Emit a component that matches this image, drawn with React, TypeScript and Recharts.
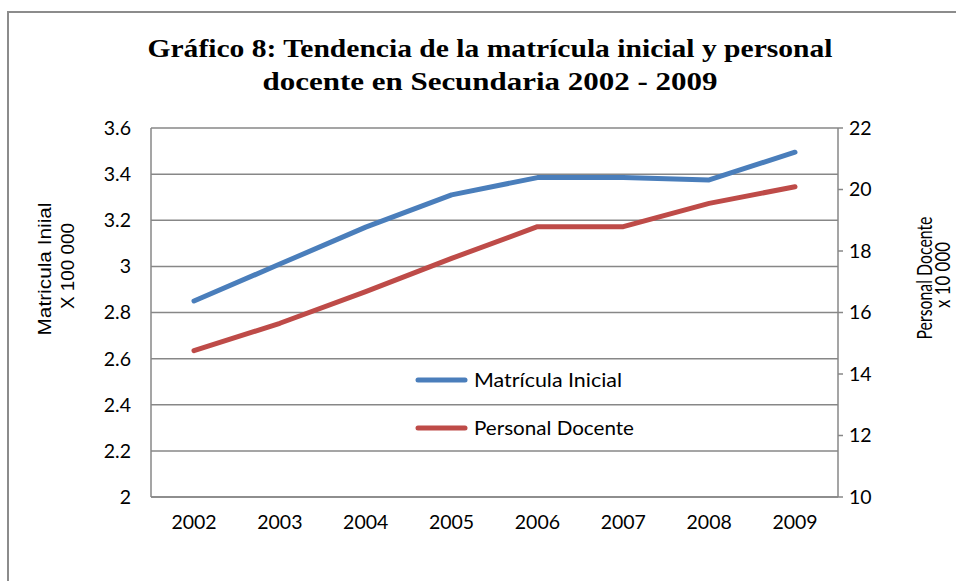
import React from "react";
import { LineChart, Line, XAxis, YAxis, CartesianGrid, Legend } from "recharts";

const years = ["2002", "2003", "2004", "2005", "2006", "2007", "2008", "2009"];
const matriculaInicial = [2.85, 3.01, 3.17, 3.31, 3.385, 3.385, 3.375, 3.495];
const personalDocente = [14.76, 15.65, 16.68, 17.76, 18.79, 18.79, 19.55, 20.09];
const leftTicks = [2, 2.2, 2.4, 2.6, 2.8, 3, 3.2, 3.4, 3.6];
const rightTicks = [10, 12, 14, 16, 18, 20, 22];
const legendTextWidths = [148, 160];

const data = years.map((y, i) => ({
  year: y,
  mat: matriculaInicial[i],
  doc: personalDocente[i],
}));

const GRID = "#878787";
const BLUE = "#4a7ebb";
const RED = "#be4b48";
const TICK_FONT = "Lato, 'Open Sans', sans-serif";

const LegendContent = (props: any) => {
  const payload = props.payload || [];
  return (
    <svg width={260} height={80} style={{ display: "block" }}>
      {payload.map((p: any, i: number) => (
        <g key={i}>
          <line x1={10} x2={57} y1={12 + i * 48} y2={12 + i * 48} stroke={p.color} strokeWidth={5} strokeLinecap="round" />
          <text
            x={66}
            y={12 + i * 48}
            dy="0.35em"
            fontFamily={TICK_FONT}
            fontSize={19}
            textLength={legendTextWidths[i]}
            lengthAdjust="spacingAndGlyphs"
            fill="#000"
          >
            {p.value}
          </text>
        </g>
      ))}
    </svg>
  );
};

export default function App() {
  return (
    <div style={{ position: "relative", width: 956, height: 581, background: "#fff", overflow: "hidden" }}>
      <style>{`body{margin:0;}`}</style>
      <div
        style={{
          position: "absolute",
          left: 7,
          top: 11,
          width: 949,
          height: 570,
          borderLeft: "2px solid #8c8c8c",
          borderTop: "2px solid #8c8c8c",
        }}
      />
      <LineChart
        width={956}
        height={581}
        data={data}
        margin={{ top: 128, right: 58, bottom: 44, left: 91 }}
        style={{ position: "absolute", left: 0, top: 0 }}
      >
        <CartesianGrid yAxisId="left" vertical={false} stroke={GRID} strokeWidth={1.5} />
        <XAxis
          dataKey="year"
          height={40}
          padding={{ left: 43, right: 43 }}
          tickLine={false}
          tickSize={0}
          tickMargin={18}
          axisLine={{ stroke: GRID, strokeWidth: 1.5 }}
          tick={{ fill: "#000", fontSize: 19.5, fontFamily: TICK_FONT }}
        />
        <YAxis
          yAxisId="left"
          width={60}
          domain={[2, 3.6]}
          ticks={leftTicks}
          interval={0}
          tickLine={false}
          tickSize={0}
          tickMargin={20}
          axisLine={{ stroke: GRID, strokeWidth: 1.5 }}
          tick={{ fill: "#000", fontSize: 19.5, fontFamily: TICK_FONT }}
        />
        <YAxis
          yAxisId="right"
          orientation="right"
          width={60}
          domain={[10, 22]}
          ticks={rightTicks}
          interval={0}
          tickSize={5}
          tickMargin={6}
          tickLine={{ stroke: GRID, strokeWidth: 1.5 }}
          axisLine={{ stroke: GRID, strokeWidth: 1.5 }}
          tick={{ fill: "#000", fontSize: 19.5, fontFamily: TICK_FONT }}
        />
        <Legend
          layout="vertical"
          align="center"
          verticalAlign="middle"
          content={<LegendContent />}
          wrapperStyle={{ position: "absolute", left: 408, top: 368, width: 260, height: 80 }}
        />
        <Line
          yAxisId="left"
          type="linear"
          dataKey="mat"
          name="Matrícula Inicial"
          stroke={BLUE}
          strokeWidth={5}
          strokeLinecap="round"
          strokeLinejoin="round"
          dot={false}
          activeDot={false}
          isAnimationActive={false}
        />
        <Line
          yAxisId="right"
          type="linear"
          dataKey="doc"
          name="Personal Docente"
          stroke={RED}
          strokeWidth={5}
          strokeLinecap="round"
          strokeLinejoin="round"
          dot={false}
          activeDot={false}
          isAnimationActive={false}
        />
      </LineChart>
      <svg
        width={956}
        height={581}
        style={{ position: "absolute", left: 0, top: 0, pointerEvents: "none" }}
      >
        <text
          x={490}
          y={57}
          textAnchor="middle"
          fontFamily="'Liberation Serif', serif"
          fontWeight="bold"
          fontSize={26}
          textLength={685}
          lengthAdjust="spacingAndGlyphs"
          fill="#000"
        >
          Gráfico 8: Tendencia de la matrícula inicial y personal
        </text>
        <text
          x={490}
          y={90}
          textAnchor="middle"
          fontFamily="'Liberation Serif', serif"
          fontWeight="bold"
          fontSize={26}
          textLength={455}
          lengthAdjust="spacingAndGlyphs"
          fill="#000"
        >
          docente en Secundaria 2002 - 2009
        </text>
        <text
          transform="translate(51,269) rotate(-90)"
          textAnchor="middle"
          fontFamily="'Liberation Sans', Arial, sans-serif"
          fontSize={19}
          textLength={133}
          lengthAdjust="spacingAndGlyphs"
          fill="#000"
        >
          Matricula Iniial
        </text>
        <text
          transform="translate(74,266) rotate(-90)"
          textAnchor="middle"
          fontFamily="'Liberation Sans', Arial, sans-serif"
          fontSize={19}
          textLength={86}
          lengthAdjust="spacingAndGlyphs"
          fill="#000"
        >
          X 100 000
        </text>
        <text
          transform="translate(932,278) rotate(-90)"
          textAnchor="middle"
          fontFamily="Lato, 'Open Sans', sans-serif"
          fontSize={21}
          textLength={123}
          lengthAdjust="spacingAndGlyphs"
          fill="#000"
        >
          Personal Docente
        </text>
        <text
          transform="translate(950,275) rotate(-90)"
          textAnchor="middle"
          fontFamily="Lato, 'Open Sans', sans-serif"
          fontSize={21}
          textLength={66}
          lengthAdjust="spacingAndGlyphs"
          fill="#000"
        >
          x 10 000
        </text>
      </svg>
    </div>
  );
}
